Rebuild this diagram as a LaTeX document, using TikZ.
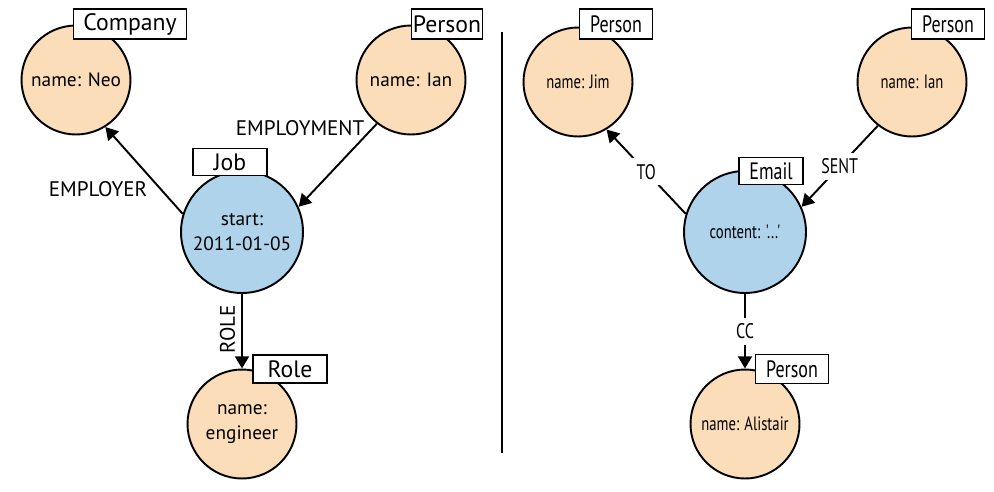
\documentclass[tikz,border=0pt]{standalone}
\usepackage{fontspec}
\setmainfont{PT Sans}
\newfontfamily\narrowfont[FakeStretch=0.76]{PT Sans}
\usepackage{tikz}
\usetikzlibrary{arrows.meta, positioning}
\definecolor{peach}{HTML}{FCDDB9}
\definecolor{skyblue}{HTML}{AFD3EA}
\tikzset{
	entity/.style={circle, draw, line width=1.1pt, fill=peach, minimum size=2.18cm, inner sep=0pt, align=center, font=\fontsize{11}{14}\selectfont},
	event/.style={entity, fill=skyblue, minimum size=2.44cm},
	tagbox/.style={draw, fill=white, line width=1pt, minimum height=0.6cm, inner sep=0pt, font=\fontsize{13.5}{15}\selectfont},
	rel/.style={line width=1.1pt, -{Triangle[width=8pt,length=7pt]}},
	rellabel/.style={font=\fontsize{12}{14}\selectfont},
	narrow/.style={font=\narrowfont\fontsize{#1}{14}\selectfont}
}

\begin{document}
\begin{tikzpicture}[x=0.02cm, y=-0.02cm]
	\useasboundingbox (0,0) rectangle (994,491);
	
	% Left graph: job as a node
	\node[entity] (company) at (76,80) {name: Neo};
	\node[entity] (ian) at (411,80) {name: Ian};
	\node[event] (job) at (242,232) {start:\\2011-01-05};
	\node[entity] (role) at (242,424) {name:\\engineer};
	
	\draw[rel] (job.163) -- (company.-58) node[rellabel, pos=0.28, left=4pt] {EMPLOYER};
	\draw[rel] (ian.-128) -- (job.24) node[rellabel, pos=0.05, left=1pt] {EMPLOYMENT};
	\draw[rel] (job.south) -- (role.north) node[rellabel, midway, rotate=90, above=1pt] {ROLE};
	
	% Labels for the nodes
	\node[tagbox, minimum width=2.26cm] (companytag) at (130,24) {Company};
	\node[tagbox, minimum width=1.42cm] (iantag) at (447,24) {Person};
	\node[tagbox, minimum width=1.48cm, minimum height=0.54cm] (jobtag) at (230,162) {Job};
	\node[tagbox, minimum width=1.48cm, minimum height=0.56cm] (roletag) at (290,369) {Role};
	
	% Divider
	\draw[line width=0.9pt] (502,32) -- (502,453);
	
	% Right graph: email as a node
	\node[entity, narrow=11] (jim) at (578,82) {name: Jim};
	\node[entity, narrow=11] (iansender) at (912,82) {name: Ian};
	\node[event, narrow=11] (email) at (745,232) {content: '...'};
	\node[entity, narrow=11] (alistair) at (745,424) {name: Alistair};
	
	\draw[rel] (email.163) -- (jim.-59) node[narrow=12, midway, fill=white] {TO};
	\draw[rel] (iansender.-128) -- (email.24) node[narrow=12, midway, fill=white] {SENT};
	\draw[rel] (email.south) -- (alistair.north) node[narrow=12, midway, fill=white] {CC};
	
	\node[tagbox, narrow=13.5, minimum width=1.46cm] (jimtag) at (616,24) {Person};
	\node[tagbox, narrow=13.5, minimum width=1.46cm] (iansendertag) at (948,24) {Person};
	\node[tagbox, narrow=13.5, minimum width=1.28cm, minimum height=0.54cm] (emailtag) at (771,171) {Email};
	\node[tagbox, narrow=13.5, minimum width=1.46cm, minimum height=0.58cm] (alistairtag) at (792,369) {Person};
\end{tikzpicture}
\end{document}
